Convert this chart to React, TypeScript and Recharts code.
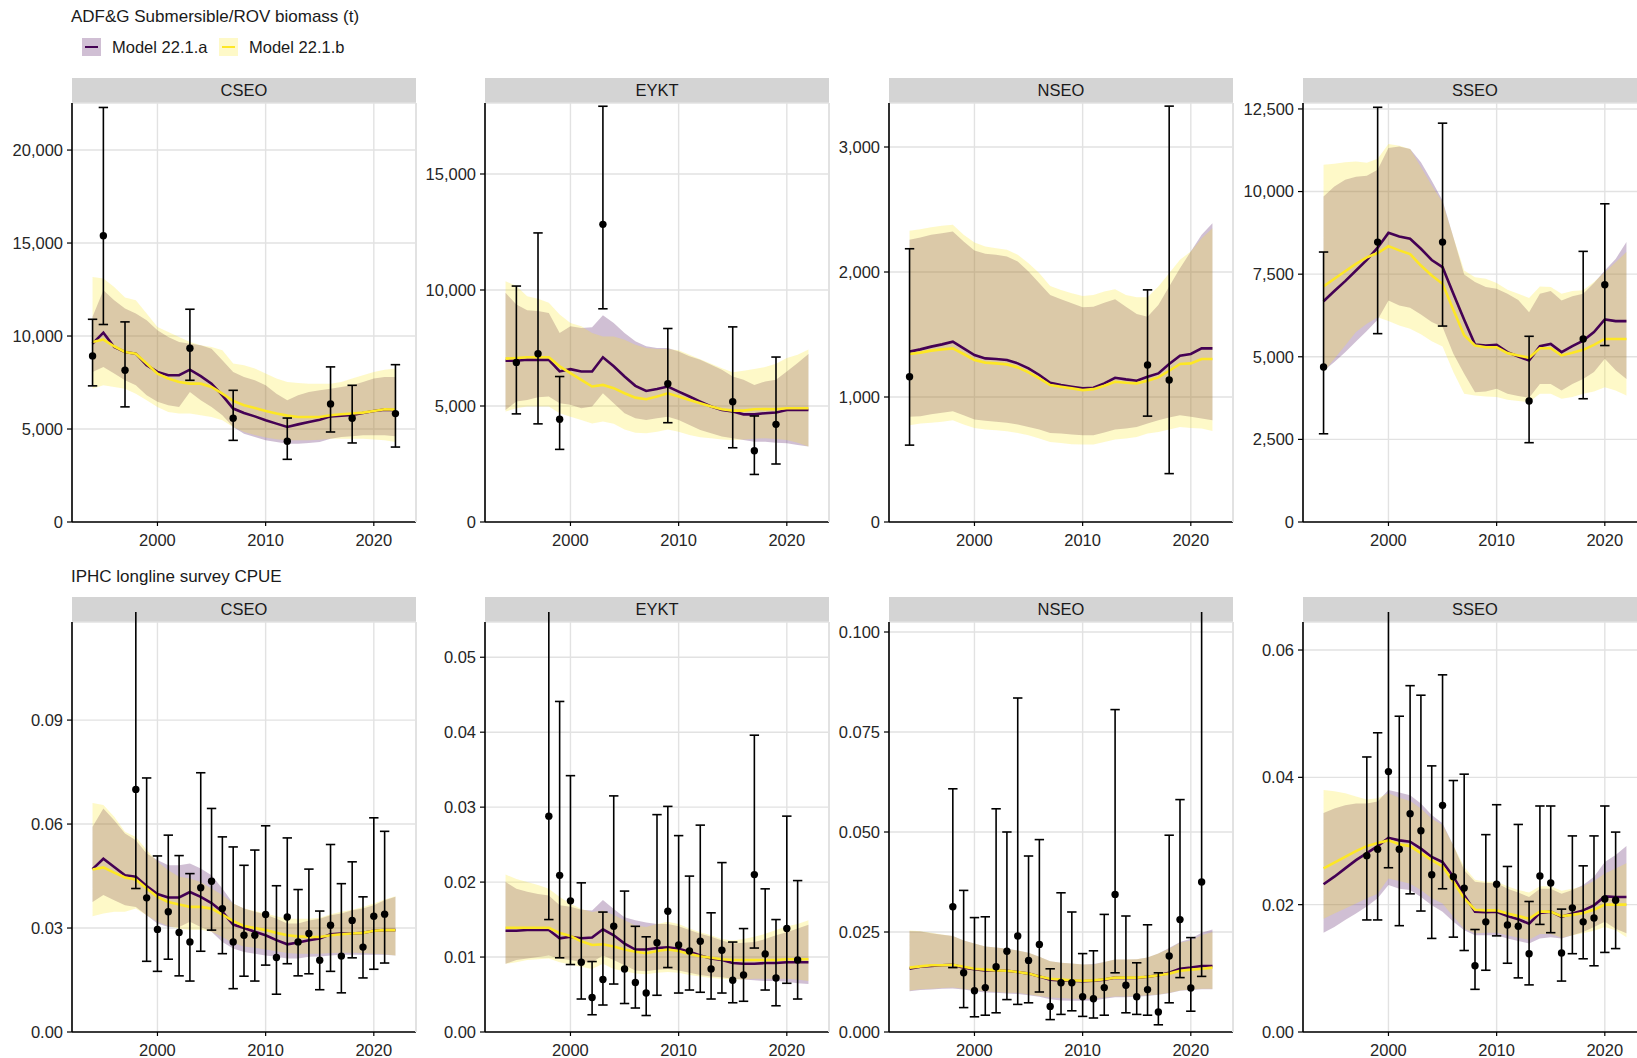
import React from 'react';
import { ComposedChart, Area, Line, Scatter, ErrorBar, XAxis, YAxis, CartesianGrid } from 'recharts';

// ---------- shared axis data ----------
const YEARS = [1994, 1995, 1996, 1997, 1998, 1999, 2000, 2001, 2002, 2003, 2004, 2005, 2006, 2007, 2008, 2009, 2010, 2011, 2012, 2013, 2014, 2015, 2016, 2017, 2018, 2019, 2020, 2021, 2022];
const X_TICKS = [2000, 2010, 2020];
const CPUE_YEARS = [1998, 1999, 2000, 2001, 2002, 2003, 2004, 2005, 2006, 2007, 2008, 2009, 2010, 2011, 2012, 2013, 2014, 2015, 2016, 2017, 2018, 2019, 2020, 2021];
const AREAS = ['CSEO', 'EYKT', 'NSEO', 'SSEO'];
const MODEL_NAMES = ['Model 22.1.a', 'Model 22.1.b'];

// ---------- ADF&G Submersible/ROV biomass (t) ----------
// CSEO
const rovCseoA = [9590, 10180, 9410, 9140, 9050, 8430, 8070, 7890, 7890, 8190, 7840, 7440, 6810, 6100, 5860, 5680, 5470, 5290, 5110, 5250, 5380, 5500, 5680, 5720, 5760, 5860, 5970, 6040, 6010];
const rovCseoALo = [8070, 8340, 7980, 7620, 7350, 6810, 6460, 6280, 6190, 6990, 6540, 6190, 5740, 5110, 4750, 4570, 4390, 4300, 4210, 4210, 4250, 4300, 4480, 4570, 4610, 4660, 4660, 4660, 4610];
const rovCseoAHi = [11030, 12460, 11920, 11480, 11210, 10850, 10310, 9950, 9680, 9590, 9500, 9320, 8700, 8070, 7800, 7620, 7350, 6900, 6540, 6810, 6990, 7080, 7170, 7260, 7350, 7530, 7710, 7800, 7800];
const rovCseoB = [9680, 9810, 9450, 9140, 9050, 8520, 7980, 7710, 7530, 7440, 7440, 7260, 6900, 6510, 6280, 6130, 5970, 5830, 5720, 5650, 5650, 5650, 5740, 5790, 5830, 5880, 5970, 6060, 6040];
const rovCseoBLo = [7170, 7350, 7260, 7170, 6900, 6540, 6190, 5920, 5830, 5830, 5740, 5650, 5470, 5110, 4840, 4680, 4540, 4450, 4390, 4390, 4390, 4420, 4480, 4480, 4480, 4480, 4430, 4390, 4300];
const rovCseoBHi = [13180, 13090, 12640, 12070, 11920, 11210, 10490, 10220, 9950, 9680, 9500, 9410, 9230, 8520, 8430, 8250, 7980, 7710, 7530, 7480, 7440, 7440, 7440, 7530, 7710, 7890, 8070, 8190, 8250];
const rovCseoObsYears = [1994, 1995, 1997, 2003, 2007, 2012, 2016, 2018, 2022];
const rovCseoObs = [8930, 15390, 8160, 9340, 5580, 4340, 6350, 5580, 5830];
const rovCseoObsLo = [7320, 10620, 6190, 7620, 4390, 3370, 4840, 4250, 4030];
const rovCseoObsHi = [10900, 22290, 10760, 11440, 7080, 5590, 8340, 7350, 8460];

// EYKT
const rovEyktA = [6950, 6950, 6990, 6990, 6990, 6490, 6590, 6490, 6490, 7100, 6710, 6270, 5870, 5650, 5730, 5840, 5620, 5410, 5190, 4980, 4830, 4760, 4640, 4640, 4690, 4720, 4830, 4830, 4830];
const rovEyktALo = [4830, 5190, 5260, 5380, 5410, 5120, 5050, 4900, 4980, 5550, 5120, 4690, 4470, 4400, 4470, 4540, 4400, 4180, 3970, 3820, 3680, 3610, 3530, 3460, 3460, 3420, 3390, 3320, 3250];
const rovEyktAHi = [9880, 9370, 9130, 9090, 9010, 8150, 8440, 8360, 8390, 8910, 8580, 8150, 7790, 7570, 7500, 7500, 7350, 7140, 6990, 6780, 6560, 6270, 6130, 5910, 6060, 6130, 6490, 6850, 7240];
const rovEyktB = [7040, 7070, 7100, 7100, 7100, 6710, 6420, 6130, 5840, 5910, 5770, 5550, 5360, 5290, 5410, 5550, 5410, 5260, 5120, 4980, 4860, 4800, 4800, 4860, 4870, 4860, 4900, 4900, 4900];
const rovEyktBLo = [4760, 4900, 4980, 4980, 4980, 4690, 4540, 4400, 4250, 4330, 4230, 3990, 3850, 3820, 3890, 3990, 3890, 3750, 3650, 3610, 3560, 3530, 3560, 3590, 3610, 3580, 3530, 3420, 3250];
const rovEyktBHi = [10380, 10170, 9730, 9620, 9450, 8940, 8580, 8440, 8150, 8000, 8000, 7860, 7640, 7500, 7460, 7460, 7400, 7210, 7020, 6820, 6630, 6460, 6520, 6590, 6680, 6820, 7070, 7210, 7430];
const rovEyktObsYears = [1995, 1997, 1999, 2003, 2009, 2015, 2017, 2019];
const rovEyktObs = [6880, 7250, 4430, 12830, 5960, 5180, 3070, 4210];
const rovEyktObsLo = [4660, 4230, 3130, 9190, 4280, 3200, 2050, 2500];
const rovEyktObsHi = [10170, 12460, 6270, 17920, 8340, 8410, 4570, 7110];

// NSEO
const rovNseoA = [1363, 1381, 1403, 1421, 1443, 1389, 1336, 1309, 1304, 1296, 1269, 1229, 1176, 1114, 1096, 1082, 1069, 1074, 1109, 1154, 1141, 1130, 1162, 1189, 1264, 1331, 1344, 1389, 1389];
const rovNseoALo = [842, 847, 863, 874, 887, 855, 820, 810, 802, 794, 780, 761, 740, 713, 708, 700, 695, 695, 716, 740, 748, 761, 788, 815, 836, 855, 842, 828, 815];
const rovNseoAHi = [2258, 2277, 2298, 2311, 2325, 2245, 2172, 2146, 2138, 2124, 2084, 2004, 1910, 1817, 1782, 1750, 1718, 1723, 1755, 1782, 1723, 1665, 1643, 1737, 1884, 2031, 2164, 2298, 2391];
const rovNseoB = [1344, 1355, 1371, 1381, 1389, 1344, 1296, 1275, 1269, 1261, 1237, 1197, 1149, 1096, 1082, 1069, 1055, 1063, 1090, 1122, 1114, 1109, 1130, 1157, 1210, 1264, 1269, 1304, 1304];
const rovNseoBLo = [775, 788, 794, 802, 815, 780, 753, 740, 735, 727, 713, 695, 668, 641, 633, 623, 620, 620, 641, 660, 668, 681, 708, 721, 740, 761, 753, 748, 729];
const rovNseoBHi = [2330, 2343, 2359, 2370, 2378, 2298, 2236, 2204, 2191, 2178, 2138, 2071, 1991, 1889, 1857, 1830, 1809, 1817, 1844, 1862, 1817, 1798, 1798, 1884, 1991, 2098, 2164, 2271, 2351];
const rovNseoObsYears = [1994, 2016, 2018];
const rovNseoObs = [1162, 1256, 1136];
const rovNseoObsLo = [615, 847, 387];
const rovNseoObsHi = [2186, 1857, 3327];

// SSEO
const rovSseoA = [6680, 6990, 7290, 7610, 7930, 8300, 8750, 8640, 8570, 8270, 7930, 7710, 6910, 6120, 5370, 5340, 5360, 5140, 5010, 4890, 5320, 5390, 5140, 5320, 5490, 5750, 6130, 6080, 6080];
const rovSseoALo = [4570, 4840, 5140, 5460, 5780, 6120, 6700, 6550, 6480, 6280, 6050, 5900, 5090, 4490, 3930, 3950, 4030, 3880, 3810, 3760, 4180, 4180, 3980, 4180, 4330, 4540, 4940, 4590, 4330];
const rovSseoAHi = [9850, 10150, 10360, 10450, 10480, 10660, 11320, 11360, 11290, 10890, 10330, 9730, 8620, 7490, 7260, 7110, 7060, 6910, 6720, 6350, 6910, 6990, 6700, 6830, 6910, 7230, 7610, 7960, 8470];
const rovSseoB = [7130, 7360, 7590, 7810, 8010, 8140, 8350, 8220, 8110, 7760, 7460, 7210, 6420, 5650, 5340, 5290, 5290, 5110, 5040, 4970, 5260, 5260, 5040, 5120, 5210, 5360, 5540, 5540, 5540];
const rovSseoBLo = [4540, 4940, 5340, 5750, 6000, 6200, 6080, 5950, 5850, 5680, 5470, 5310, 4540, 3880, 3830, 3800, 3780, 3700, 3660, 3630, 3880, 3880, 3730, 3780, 3880, 3950, 4080, 3980, 3830];
const rovSseoBHi = [10810, 10840, 10890, 10910, 10870, 10990, 11440, 11390, 11290, 10740, 10180, 9680, 8620, 7610, 7410, 7360, 7230, 7030, 6910, 6780, 7130, 7110, 6910, 6990, 7010, 7260, 7560, 7860, 8170];
const rovSseoObsYears = [1994, 1999, 2005, 2013, 2018, 2020];
const rovSseoObs = [4690, 8470, 8470, 3660, 5540, 7180];
const rovSseoObsLo = [2670, 5700, 5930, 2400, 3730, 5340];
const rovSseoObsHi = [8170, 12550, 12070, 5620, 8190, 9630];

// ---------- IPHC longline survey CPUE ----------
// CSEO
const cpueCseoA = [0.0470, 0.0500, 0.0476, 0.0452, 0.0448, 0.0421, 0.0398, 0.0388, 0.0388, 0.0404, 0.0390, 0.0372, 0.0347, 0.0310, 0.0300, 0.0289, 0.0279, 0.0265, 0.0253, 0.0258, 0.0265, 0.0270, 0.0282, 0.0284, 0.0284, 0.0286, 0.0292, 0.0294, 0.0294];
const cpueCseoALo = [0.0375, 0.0395, 0.0380, 0.0366, 0.0361, 0.0337, 0.0313, 0.0303, 0.0303, 0.0318, 0.0303, 0.0289, 0.0260, 0.0241, 0.0231, 0.0226, 0.0221, 0.0217, 0.0212, 0.0212, 0.0217, 0.0218, 0.0221, 0.0223, 0.0223, 0.0223, 0.0223, 0.0223, 0.0221];
const cpueCseoAHi = [0.0592, 0.0645, 0.0611, 0.0573, 0.0553, 0.0515, 0.0496, 0.0481, 0.0481, 0.0486, 0.0472, 0.0452, 0.0414, 0.0371, 0.0356, 0.0347, 0.0339, 0.0327, 0.0313, 0.0313, 0.0322, 0.0327, 0.0337, 0.0342, 0.0351, 0.0356, 0.0366, 0.0380, 0.0390];
const cpueCseoB = [0.0469, 0.0475, 0.0460, 0.0446, 0.0440, 0.0414, 0.0390, 0.0375, 0.0368, 0.0361, 0.0361, 0.0356, 0.0339, 0.0320, 0.0306, 0.0300, 0.0294, 0.0286, 0.0279, 0.0276, 0.0274, 0.0274, 0.0279, 0.0282, 0.0284, 0.0286, 0.0292, 0.0294, 0.0294];
const cpueCseoBLo = [0.0334, 0.0342, 0.0347, 0.0347, 0.0356, 0.0337, 0.0318, 0.0306, 0.0298, 0.0295, 0.0295, 0.0289, 0.0274, 0.0257, 0.0247, 0.0243, 0.0238, 0.0233, 0.0228, 0.0226, 0.0226, 0.0226, 0.0228, 0.0229, 0.0229, 0.0228, 0.0226, 0.0224, 0.0221];
const cpueCseoBHi = [0.0661, 0.0655, 0.0621, 0.0578, 0.0563, 0.0525, 0.0491, 0.0467, 0.0448, 0.0443, 0.0433, 0.0414, 0.0395, 0.0371, 0.0356, 0.0349, 0.0342, 0.0334, 0.0327, 0.0327, 0.0327, 0.0330, 0.0340, 0.0347, 0.0353, 0.0361, 0.0371, 0.0382, 0.0392];
const cpueCseoObs = [0.0700, 0.0387, 0.0296, 0.0347, 0.0287, 0.0260, 0.0416, 0.0435, 0.0356, 0.0260, 0.0279, 0.0279, 0.0339, 0.0215, 0.0332, 0.0260, 0.0284, 0.0207, 0.0308, 0.0219, 0.0322, 0.0245, 0.0334, 0.0340];
const cpueCseoObsLo = [0.0414, 0.0204, 0.0175, 0.0210, 0.0162, 0.0147, 0.0233, 0.0294, 0.0226, 0.0125, 0.0161, 0.0147, 0.0193, 0.0109, 0.0197, 0.0162, 0.0168, 0.0122, 0.0175, 0.0113, 0.0214, 0.0156, 0.0181, 0.0199];
const cpueCseoObsHi = [0.1250, 0.0733, 0.0508, 0.0568, 0.0509, 0.0457, 0.0748, 0.0645, 0.0563, 0.0534, 0.0481, 0.0525, 0.0595, 0.0422, 0.0560, 0.0411, 0.0470, 0.0349, 0.0541, 0.0428, 0.0491, 0.0390, 0.0618, 0.0579];

// EYKT
const cpueEyktA = [0.0135, 0.0135, 0.0136, 0.0136, 0.0136, 0.0125, 0.0127, 0.0125, 0.0126, 0.0137, 0.0129, 0.0118, 0.0110, 0.0110, 0.0112, 0.0113, 0.0111, 0.0107, 0.0102, 0.0098, 0.0096, 0.0092, 0.0091, 0.0091, 0.0092, 0.0092, 0.0093, 0.0093, 0.0093];
const cpueEyktALo = [0.0091, 0.0096, 0.0098, 0.0100, 0.0102, 0.0098, 0.0096, 0.0093, 0.0093, 0.0102, 0.0096, 0.0089, 0.0082, 0.0081, 0.0083, 0.0084, 0.0082, 0.0079, 0.0076, 0.0074, 0.0073, 0.0071, 0.0070, 0.0069, 0.0068, 0.0068, 0.0067, 0.0065, 0.0064];
const cpueEyktAHi = [0.0200, 0.0191, 0.0187, 0.0184, 0.0182, 0.0169, 0.0167, 0.0163, 0.0162, 0.0176, 0.0164, 0.0153, 0.0149, 0.0146, 0.0144, 0.0144, 0.0141, 0.0136, 0.0131, 0.0127, 0.0122, 0.0118, 0.0119, 0.0120, 0.0124, 0.0129, 0.0133, 0.0138, 0.0143];
const cpueEyktB = [0.0139, 0.0139, 0.0139, 0.0139, 0.0139, 0.0132, 0.0128, 0.0121, 0.0116, 0.0117, 0.0114, 0.0110, 0.0107, 0.0105, 0.0108, 0.0110, 0.0108, 0.0104, 0.0101, 0.0099, 0.0097, 0.0096, 0.0096, 0.0096, 0.0096, 0.0096, 0.0097, 0.0097, 0.0097];
const cpueEyktBLo = [0.0091, 0.0093, 0.0096, 0.0097, 0.0098, 0.0093, 0.0090, 0.0087, 0.0084, 0.0091, 0.0084, 0.0081, 0.0078, 0.0077, 0.0079, 0.0080, 0.0079, 0.0076, 0.0074, 0.0072, 0.0071, 0.0070, 0.0070, 0.0071, 0.0071, 0.0071, 0.0071, 0.0070, 0.0068];
const cpueEyktBHi = [0.0210, 0.0204, 0.0200, 0.0196, 0.0191, 0.0180, 0.0171, 0.0164, 0.0160, 0.0162, 0.0156, 0.0149, 0.0142, 0.0140, 0.0144, 0.0147, 0.0144, 0.0138, 0.0133, 0.0129, 0.0124, 0.0122, 0.0124, 0.0127, 0.0131, 0.0136, 0.0141, 0.0144, 0.0149];
const cpueEyktObs = [0.0288, 0.0209, 0.0175, 0.0093, 0.0046, 0.0070, 0.0141, 0.0084, 0.0066, 0.0052, 0.0119, 0.0161, 0.0116, 0.0108, 0.0121, 0.0084, 0.0109, 0.0069, 0.0076, 0.0210, 0.0104, 0.0072, 0.0138, 0.0096];
const cpueEyktObsLo = [0.0150, 0.0099, 0.0090, 0.0044, 0.0023, 0.0036, 0.0064, 0.0038, 0.0032, 0.0022, 0.0049, 0.0086, 0.0052, 0.0056, 0.0053, 0.0044, 0.0052, 0.0039, 0.0041, 0.0112, 0.0056, 0.0035, 0.0065, 0.0044];
const cpueEyktObsHi = [0.0620, 0.0441, 0.0342, 0.0199, 0.0094, 0.0160, 0.0315, 0.0188, 0.0141, 0.0127, 0.0290, 0.0301, 0.0262, 0.0208, 0.0276, 0.0159, 0.0226, 0.0120, 0.0138, 0.0396, 0.0191, 0.0150, 0.0288, 0.0202];

// NSEO
const cpueNseoA = [0.0158, 0.0163, 0.0165, 0.0167, 0.0168, 0.0161, 0.0157, 0.0154, 0.0154, 0.0153, 0.0150, 0.0146, 0.0139, 0.0131, 0.0129, 0.0128, 0.0127, 0.0128, 0.0131, 0.0136, 0.0135, 0.0135, 0.0138, 0.0142, 0.0148, 0.0158, 0.0161, 0.0165, 0.0165];
const cpueNseoALo = [0.0102, 0.0105, 0.0106, 0.0108, 0.0109, 0.0106, 0.0102, 0.0099, 0.0098, 0.0096, 0.0095, 0.0092, 0.0088, 0.0082, 0.0079, 0.0078, 0.0078, 0.0079, 0.0083, 0.0087, 0.0087, 0.0088, 0.0090, 0.0093, 0.0097, 0.0103, 0.0105, 0.0107, 0.0107];
const cpueNseoAHi = [0.0252, 0.0251, 0.0247, 0.0243, 0.0240, 0.0229, 0.0221, 0.0214, 0.0211, 0.0208, 0.0204, 0.0198, 0.0188, 0.0177, 0.0173, 0.0171, 0.0169, 0.0170, 0.0175, 0.0181, 0.0181, 0.0182, 0.0186, 0.0196, 0.0210, 0.0225, 0.0233, 0.0248, 0.0256];
const cpueNseoB = [0.0161, 0.0164, 0.0167, 0.0167, 0.0168, 0.0163, 0.0158, 0.0156, 0.0154, 0.0153, 0.0150, 0.0146, 0.0139, 0.0133, 0.0131, 0.0129, 0.0128, 0.0129, 0.0132, 0.0136, 0.0136, 0.0136, 0.0138, 0.0142, 0.0146, 0.0153, 0.0156, 0.0158, 0.0161];
const cpueNseoBLo = [0.0104, 0.0107, 0.0108, 0.0110, 0.0111, 0.0108, 0.0104, 0.0102, 0.0100, 0.0098, 0.0098, 0.0094, 0.0090, 0.0086, 0.0085, 0.0083, 0.0083, 0.0083, 0.0086, 0.0089, 0.0089, 0.0090, 0.0092, 0.0094, 0.0098, 0.0104, 0.0106, 0.0108, 0.0108];
const cpueNseoBHi = [0.0254, 0.0252, 0.0248, 0.0244, 0.0240, 0.0229, 0.0221, 0.0214, 0.0211, 0.0208, 0.0204, 0.0198, 0.0188, 0.0177, 0.0173, 0.0171, 0.0169, 0.0169, 0.0175, 0.0181, 0.0181, 0.0182, 0.0186, 0.0196, 0.0208, 0.0223, 0.0229, 0.0242, 0.0250];
const cpueNseoObs = [0.0313, 0.0148, 0.0103, 0.0111, 0.0163, 0.0202, 0.0240, 0.0179, 0.0219, 0.0064, 0.0123, 0.0123, 0.0088, 0.0083, 0.0111, 0.0344, 0.0117, 0.0088, 0.0106, 0.0050, 0.0190, 0.0281, 0.0110, 0.0375];
const cpueNseoObsLo = [0.0161, 0.0061, 0.0038, 0.0042, 0.0048, 0.0081, 0.0069, 0.0073, 0.0100, 0.0031, 0.0044, 0.0053, 0.0039, 0.0035, 0.0042, 0.0148, 0.0048, 0.0044, 0.0042, 0.0018, 0.0073, 0.0136, 0.0052, 0.0139];
const cpueNseoObsHi = [0.0608, 0.0354, 0.0286, 0.0288, 0.0558, 0.0500, 0.0835, 0.0440, 0.0481, 0.0158, 0.0348, 0.0300, 0.0196, 0.0203, 0.0294, 0.0806, 0.0290, 0.0173, 0.0268, 0.0148, 0.0492, 0.0581, 0.0236, 0.1150];

// SSEO
const cpueSseoA = [0.0232, 0.0244, 0.0257, 0.0270, 0.0281, 0.0292, 0.0305, 0.0301, 0.0299, 0.0288, 0.0275, 0.0267, 0.0244, 0.0215, 0.0189, 0.0188, 0.0189, 0.0182, 0.0177, 0.0170, 0.0187, 0.0189, 0.0181, 0.0186, 0.0191, 0.0199, 0.0213, 0.0212, 0.0212];
const cpueSseoALo = [0.0156, 0.0165, 0.0176, 0.0186, 0.0197, 0.0210, 0.0231, 0.0225, 0.0223, 0.0212, 0.0199, 0.0189, 0.0173, 0.0160, 0.0152, 0.0152, 0.0152, 0.0147, 0.0143, 0.0139, 0.0147, 0.0149, 0.0147, 0.0152, 0.0157, 0.0165, 0.0173, 0.0162, 0.0155];
const cpueSseoAHi = [0.0344, 0.0351, 0.0356, 0.0359, 0.0359, 0.0362, 0.0380, 0.0376, 0.0372, 0.0359, 0.0341, 0.0328, 0.0293, 0.0254, 0.0236, 0.0234, 0.0234, 0.0225, 0.0219, 0.0212, 0.0225, 0.0225, 0.0217, 0.0223, 0.0231, 0.0244, 0.0267, 0.0278, 0.0292];
const cpueSseoB = [0.0257, 0.0266, 0.0275, 0.0284, 0.0292, 0.0297, 0.0301, 0.0295, 0.0292, 0.0281, 0.0270, 0.0260, 0.0236, 0.0210, 0.0192, 0.0191, 0.0191, 0.0186, 0.0182, 0.0178, 0.0189, 0.0189, 0.0182, 0.0184, 0.0187, 0.0192, 0.0200, 0.0200, 0.0200];
const cpueSseoBLo = [0.0178, 0.0186, 0.0194, 0.0202, 0.0210, 0.0217, 0.0241, 0.0237, 0.0233, 0.0223, 0.0210, 0.0202, 0.0181, 0.0162, 0.0155, 0.0156, 0.0156, 0.0152, 0.0148, 0.0145, 0.0154, 0.0154, 0.0148, 0.0152, 0.0155, 0.0159, 0.0165, 0.0160, 0.0149];
const cpueSseoBHi = [0.0380, 0.0378, 0.0375, 0.0370, 0.0365, 0.0367, 0.0375, 0.0368, 0.0363, 0.0351, 0.0335, 0.0325, 0.0293, 0.0259, 0.0239, 0.0236, 0.0236, 0.0229, 0.0223, 0.0219, 0.0229, 0.0229, 0.0222, 0.0225, 0.0229, 0.0237, 0.0249, 0.0257, 0.0265];
const cpueSseoObs = [0.0277, 0.0287, 0.0409, 0.0287, 0.0343, 0.0316, 0.0247, 0.0356, 0.0244, 0.0226, 0.0104, 0.0173, 0.0232, 0.0168, 0.0166, 0.0123, 0.0245, 0.0234, 0.0124, 0.0195, 0.0173, 0.0179, 0.0209, 0.0207];
const cpueSseoObsLo = [0.0176, 0.0176, 0.0258, 0.0167, 0.0217, 0.0190, 0.0147, 0.0225, 0.0149, 0.0128, 0.0067, 0.0097, 0.0151, 0.0108, 0.0085, 0.0074, 0.0169, 0.0156, 0.0080, 0.0123, 0.0115, 0.0104, 0.0125, 0.0131];
const cpueSseoObsHi = [0.0432, 0.0470, 0.0700, 0.0496, 0.0544, 0.0529, 0.0418, 0.0561, 0.0395, 0.0405, 0.0161, 0.0310, 0.0357, 0.0260, 0.0326, 0.0205, 0.0355, 0.0355, 0.0193, 0.0308, 0.0261, 0.0308, 0.0355, 0.0314];

// ---------- y-axis ticks per facet ----------
const rovTicks = [
  [0, 5000, 10000, 15000, 20000],
  [0, 5000, 10000, 15000],
  [0, 1000, 2000, 3000],
  [0, 2500, 5000, 7500, 10000, 12500],
];
const rovMax = [22530, 18060, 3352, 12680];
const cpueTicks = [
  [0, 0.03, 0.06, 0.09],
  [0, 0.01, 0.02, 0.03, 0.04, 0.05],
  [0, 0.025, 0.05, 0.075, 0.1],
  [0, 0.02, 0.04, 0.06],
];
const cpueMax = [0.1183, 0.0547, 0.1025, 0.0644];
const cpueDigits = [2, 2, 3, 2];

// ---------- layout & style ----------
const PURPLE = '#440154';
const YELLOW = '#FDE725';
const FONT = "'Liberation Sans', Arial, Helvetica, sans-serif";
const X_DOMAIN: [number, number] = [1992.1, 2023.9];
const COL_X = [72, 485, 889, 1303];
const PW = 344;
const STRIP_H = 25;
const LEFT_PAD = 70;
const TOP_PAD = 10;
const AXIS_H = 34;

type ModelRow = { year: number; a: number; aBand: [number, number]; b: number; bBand: [number, number] };
type ObsRow = { year: number; v: number; err: [number, number] };

function modelRows(a: number[], aLo: number[], aHi: number[], b: number[], bLo: number[], bHi: number[]): ModelRow[] {
  return YEARS.map((year, i) => ({ year, a: a[i], aBand: [aLo[i], aHi[i]], b: b[i], bBand: [bLo[i], bHi[i]] }));
}

function obsRows(years: number[], v: number[], lo: number[], hi: number[]): ObsRow[] {
  return years.map((year, i) => ({ year, v: v[i], err: [v[i] - lo[i], hi[i] - v[i]] }));
}

const rovModels = [
  modelRows(rovCseoA, rovCseoALo, rovCseoAHi, rovCseoB, rovCseoBLo, rovCseoBHi),
  modelRows(rovEyktA, rovEyktALo, rovEyktAHi, rovEyktB, rovEyktBLo, rovEyktBHi),
  modelRows(rovNseoA, rovNseoALo, rovNseoAHi, rovNseoB, rovNseoBLo, rovNseoBHi),
  modelRows(rovSseoA, rovSseoALo, rovSseoAHi, rovSseoB, rovSseoBLo, rovSseoBHi),
];
const rovObs = [
  obsRows(rovCseoObsYears, rovCseoObs, rovCseoObsLo, rovCseoObsHi),
  obsRows(rovEyktObsYears, rovEyktObs, rovEyktObsLo, rovEyktObsHi),
  obsRows(rovNseoObsYears, rovNseoObs, rovNseoObsLo, rovNseoObsHi),
  obsRows(rovSseoObsYears, rovSseoObs, rovSseoObsLo, rovSseoObsHi),
];
const cpueModels = [
  modelRows(cpueCseoA, cpueCseoALo, cpueCseoAHi, cpueCseoB, cpueCseoBLo, cpueCseoBHi),
  modelRows(cpueEyktA, cpueEyktALo, cpueEyktAHi, cpueEyktB, cpueEyktBLo, cpueEyktBHi),
  modelRows(cpueNseoA, cpueNseoALo, cpueNseoAHi, cpueNseoB, cpueNseoBLo, cpueNseoBHi),
  modelRows(cpueSseoA, cpueSseoALo, cpueSseoAHi, cpueSseoB, cpueSseoBLo, cpueSseoBHi),
];
const cpueObs = [
  obsRows(CPUE_YEARS, cpueCseoObs, cpueCseoObsLo, cpueCseoObsHi),
  obsRows(CPUE_YEARS, cpueEyktObs, cpueEyktObsLo, cpueEyktObsHi),
  obsRows(CPUE_YEARS, cpueNseoObs, cpueNseoObsLo, cpueNseoObsHi),
  obsRows(CPUE_YEARS, cpueSseoObs, cpueSseoObsLo, cpueSseoObsHi),
];

const ObsDot = (p: any) => (p.cx == null || p.cy == null ? null : <circle cx={p.cx} cy={p.cy} r={3.7} fill="#000" />);

type PanelProps = {
  left: number;
  top: number;
  height: number;
  label: string;
  yMax: number;
  yTicks: number[];
  fmt: (v: number) => string;
  model: ModelRow[];
  obs: ObsRow[];
};

function Facet({ left, top, height, label, yMax, yTicks, fmt, model, obs }: PanelProps) {
  const tickStyle = { fill: '#262626', fontSize: 16.5 };
  return (
    <>
      <div
        style={{
          position: 'absolute',
          left,
          top: top - STRIP_H,
          width: PW,
          height: STRIP_H,
          background: '#d4d4d4',
          color: '#1a1a1a',
          fontSize: 16.5,
          lineHeight: `${STRIP_H}px`,
          textAlign: 'center',
        }}
      >
        {label}
      </div>
      <div style={{ position: 'absolute', left: left - LEFT_PAD, top: top - TOP_PAD }}>
        <ComposedChart
          width={LEFT_PAD + PW + 10}
          height={TOP_PAD + height + AXIS_H}
          data={model}
          margin={{ top: TOP_PAD, right: 10, bottom: 0, left: 0 }}
        >
          <CartesianGrid stroke="#e2e2e2" strokeWidth={1.4} />
          <XAxis
            type="number"
            dataKey="year"
            domain={X_DOMAIN}
            ticks={X_TICKS}
            allowDataOverflow
            height={AXIS_H}
            interval={0}
            tickSize={4}
            tickMargin={8}
            axisLine={{ stroke: '#000', strokeWidth: 1.6 }}
            tickLine={{ stroke: '#000', strokeWidth: 1.2 }}
            tick={tickStyle}
          />
          <YAxis
            type="number"
            domain={[0, yMax]}
            ticks={yTicks}
            allowDataOverflow
            width={LEFT_PAD}
            interval={0}
            tickSize={5}
            tickMargin={4}
            tickFormatter={fmt}
            axisLine={{ stroke: '#000', strokeWidth: 1.6 }}
            tickLine={{ stroke: '#000', strokeWidth: 1.2 }}
            tick={tickStyle}
          />
          <Area type="linear" dataKey="aBand" stroke="none" fill={PURPLE} fillOpacity={0.25} isAnimationActive={false} activeDot={false} />
          <Area type="linear" dataKey="bBand" stroke="none" fill={YELLOW} fillOpacity={0.25} isAnimationActive={false} activeDot={false} />
          <Line type="linear" dataKey="a" stroke={PURPLE} strokeWidth={2.6} dot={false} activeDot={false} isAnimationActive={false} />
          <Line type="linear" dataKey="b" stroke={YELLOW} strokeWidth={2.6} dot={false} activeDot={false} isAnimationActive={false} />
          <Scatter data={obs} dataKey="v" shape={ObsDot} isAnimationActive={false}>
            <ErrorBar dataKey="err" direction="y" width={4.7} stroke="#000" strokeWidth={1.6} isAnimationActive={false} />
          </Scatter>
        </ComposedChart>
      </div>
      <div style={{ position: 'absolute', left: left + PW - 1, top, width: 2, height, background: '#e2e2e2' }} />
    </>
  );
}

const thousands = (v: number) => v.toLocaleString('en-US');

function LegendKey({ color, text, left }: { color: string; text: string; left: number }) {
  return (
    <>
      <div style={{ position: 'absolute', left, top: 38, width: 19, height: 18, background: color, opacity: 0.25 }} />
      <div style={{ position: 'absolute', left: left + 3, top: 46, width: 13, height: 2.4, background: color }} />
      <div style={{ position: 'absolute', left: left + 30, top: 37, lineHeight: '20px', fontSize: 16.5, color: '#1a1a1a' }}>{text}</div>
    </>
  );
}

export default function App() {
  return (
    <div
      style={{
        position: 'absolute',
        left: 0,
        top: 0,
        width: 1637,
        height: 1058,
        overflow: 'hidden',
        background: '#fff',
        fontFamily: FONT,
      }}
    >
      <div style={{ position: 'absolute', left: 71, top: 7, fontSize: 17, lineHeight: '20px', color: '#1a1a1a' }}>
        ADF&amp;G Submersible/ROV biomass (t)
      </div>
      <LegendKey color={PURPLE} text={MODEL_NAMES[0]} left={82} />
      <LegendKey color={YELLOW} text={MODEL_NAMES[1]} left={219} />

      {AREAS.map((area, i) => (
        <Facet
          key={`rov-${area}`}
          left={COL_X[i]}
          top={103}
          height={419}
          label={area}
          yMax={rovMax[i]}
          yTicks={rovTicks[i]}
          fmt={thousands}
          model={rovModels[i]}
          obs={rovObs[i]}
        />
      ))}

      <div style={{ position: 'absolute', left: 71, top: 567, fontSize: 17, lineHeight: '20px', color: '#1a1a1a' }}>
        IPHC longline survey CPUE
      </div>

      {AREAS.map((area, i) => (
        <Facet
          key={`cpue-${area}`}
          left={COL_X[i]}
          top={622}
          height={410}
          label={area}
          yMax={cpueMax[i]}
          yTicks={cpueTicks[i]}
          fmt={(v: number) => v.toFixed(cpueDigits[i])}
          model={cpueModels[i]}
          obs={cpueObs[i]}
        />
      ))}
    </div>
  );
}
